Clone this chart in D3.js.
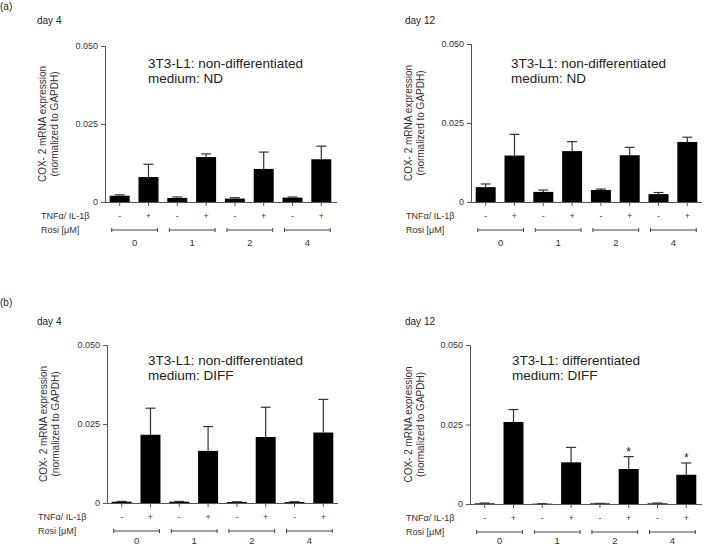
<!DOCTYPE html>
<html><head><meta charset="utf-8">
<script src="https://cdn.jsdelivr.net/npm/d3@7"></script>
<style>body{margin:0;background:#fff}svg{display:block}text{font-family:"Liberation Sans",Arial,sans-serif}</style>
</head><body>
<svg id="c" width="706" height="546"></svg>
<script>
// ---- data ----
const treatments = ["-", "+", "-", "+", "-", "+", "-", "+"];
const rosiGroups = ["0", "1", "2", "4"];
const yTicks = [0, 0.025, 0.05];
const yTickLabels = ["0", "0.025", "0.050"];
const panelLetters = ["(a)", "(b)"];
const dayLabels = ["day 4", "day 12", "day 4", "day 12"];
const cellLines = ["3T3-L1: non-differentiated", "3T3-L1: non-differentiated", "3T3-L1: non-differentiated", "3T3-L1: differentiated"];
const media = ["medium: ND", "medium: ND", "medium: DIFF", "medium: DIFF"];
const meansA4  = [0.0020, 0.0080, 0.0013, 0.0144, 0.0011, 0.0106, 0.0014, 0.0137];
const errA4    = [0.0003, 0.0041, 0.0003, 0.0010, 0.0003, 0.0054, 0.0002, 0.0042];
const meansA12 = [0.0047, 0.0147, 0.0032, 0.0161, 0.0038, 0.0148, 0.0025, 0.0190];
const errA12   = [0.0010, 0.0067, 0.0006, 0.0030, 0.0003, 0.0025, 0.0005, 0.0015];
const meansB4  = [0.0004, 0.0216, 0.0004, 0.0165, 0.0003, 0.0209, 0.0003, 0.0223];
const errB4    = [0.0001, 0.0084, 0.0001, 0.0077, 0.0001, 0.0094, 0.0001, 0.0105];
const meansB12 = [0.0002, 0.0258, 0.0001, 0.0131, 0.0002, 0.0110, 0.0002, 0.0092];
const errB12   = [0.0001, 0.0039, 0.0000, 0.0047, 0.0000, 0.0039, 0.0001, 0.0037];
const starsB12 = [false, false, false, false, false, true, false, true];
const yLabelLines = ["COX- 2 mRNA expression", "(normalized to GAPDH)"];
const rowLabels = ["TNF\u03b1/ IL-1\u03b2", "Rosi [\u03bcM]"];

// ---- layout ----
const panels = [
  {ax:105, xe:337, y0:202, yt:46, means:meansA4, errs:errA4, stars:null, dayX:37, dayY:24, annX:148, annY:68, ylx:42, rowX:41},
  {ax:471, xe:702, y0:202, yt:44, means:meansA12, errs:errA12, stars:null, dayX:405, dayY:24, annX:511, annY:68, ylx:408, rowX:406},
  {ax:107, xe:338, y0:503, yt:345, means:meansB4, errs:errB4, stars:null, dayX:37, dayY:325, annX:148, annY:365, ylx:43, rowX:38},
  {ax:470, xe:702, y0:504, yt:345, means:meansB12, errs:errB12, stars:starsB12, dayX:405, dayY:325, annX:512, annY:365, ylx:408, rowX:406}
];
const svg = d3.select("#c");
const axisCol = "#555";

svg.append("text").attr("x", 0).attr("y", 10).attr("font-size", 10).attr("fill", "#222").text(panelLetters[0]);
svg.append("text").attr("x", 0).attr("y", 306).attr("font-size", 10).attr("fill", "#222").text(panelLetters[1]);

panels.forEach((p, pi) => {
  const g = svg.append("g");
  const idx = d3.range(treatments.length);
  const x = d3.scaleBand().domain(idx).range([p.ax, p.ax + 231]).paddingInner(0.306).paddingOuter(0.163);
  const y = d3.scaleLinear().domain([0, 0.05]).range([p.y0, p.yt]);
  const bw = x.bandwidth();

  // y axis
  const yAxis = d3.axisLeft(y).tickValues(yTicks).tickFormat((d, i) => yTickLabels[i]).tickSize(4).tickPadding(3);
  const ya = g.append("g").attr("transform", `translate(${p.ax},0)`).call(yAxis);
  ya.select(".domain").attr("stroke", axisCol);
  ya.selectAll(".tick line").attr("stroke", axisCol);
  ya.selectAll("text").attr("font-size", 9).attr("fill", "#333").attr("font-family", "Liberation Sans, Arial, sans-serif");

  // x baseline with ticks
  const xAxis = d3.axisBottom(x).tickSize(4).tickFormat("").tickSizeOuter(0);
  const xa = g.append("g").attr("transform", `translate(0,${p.y0})`).call(xAxis);
  xa.select(".domain").attr("stroke", axisCol).attr("d", `M${p.ax - 4},0.5H${p.xe}`);
  xa.selectAll(".tick line").attr("stroke", axisCol);

  // bars
  g.selectAll("rect.bar").data(p.means).join("rect").attr("class", "bar")
    .attr("x", (d, i) => x(i)).attr("width", bw)
    .attr("y", d => y(d)).attr("height", d => p.y0 - y(d)).attr("fill", "#000");

  // error bars
  p.means.forEach((m, i) => {
    const cx = x(i) + bw / 2;
    const top = y(m + p.errs[i]);
    g.append("line").attr("x1", cx).attr("x2", cx).attr("y1", y(m)).attr("y2", top).attr("stroke", "#333").attr("stroke-width", 1.2);
    g.append("line").attr("x1", cx - 5).attr("x2", cx + 5).attr("y1", top).attr("y2", top).attr("stroke", "#333").attr("stroke-width", 1.2);
    if (p.stars && p.stars[i]) {
      g.append("text").attr("x", cx).attr("y", top - 1).attr("text-anchor", "middle").attr("font-size", 12).attr("fill", "#222").text("*");
    }
    g.append("text").attr("x", cx).attr("y", p.y0 + 17).attr("text-anchor", "middle").attr("font-size", 9).attr("fill", "#444").text(treatments[i]);
  });

  // row labels
  g.append("text").attr("x", p.rowX).attr("y", p.y0 + 17).attr("font-size", 9).attr("fill", "#333").text(rowLabels[0]);
  g.append("text").attr("x", p.rowX).attr("y", p.y0 + 31).attr("font-size", 9).attr("fill", "#333").text(rowLabels[1]);

  // group brackets
  rosiGroups.forEach((lab, k) => {
    const xa1 = x(2 * k) + 2, xa2 = x(2 * k + 1) + bw - 1;
    const by = p.y0 + 28;
    g.append("path").attr("d", `M${xa1},${by - 2}V${by + 2}M${xa1},${by}H${xa2}M${xa2},${by - 2}V${by + 2}`).attr("stroke", "#444").attr("fill", "none");
    g.append("text").attr("x", (xa1 + xa2) / 2).attr("y", Math.min(p.y0 + 44, 544)).attr("text-anchor", "middle").attr("font-size", 9.5).attr("fill", "#333").text(lab);
  });

  // y label
  const ymid = (p.y0 + p.yt) / 2;
  yLabelLines.forEach((t, li) => {
    g.append("text").attr("transform", `translate(${p.ylx + 4 + li * 11.5},${ymid}) rotate(-90)`)
      .attr("text-anchor", "middle").attr("font-size", 10).attr("fill", "#333").text(t);
  });

  // day label
  g.append("text").attr("x", p.dayX).attr("y", p.dayY).attr("font-size", 10).attr("fill", "#222").text(dayLabels[pi]);

  // annotation
  g.append("text").attr("x", p.annX).attr("y", p.annY).attr("font-size", 13.5).attr("fill", "#222").text(cellLines[pi]);
  g.append("text").attr("x", p.annX).attr("y", p.annY + 15).attr("font-size", 13.5).attr("fill", "#222").text(media[pi]);
});
</script>
</body></html>
